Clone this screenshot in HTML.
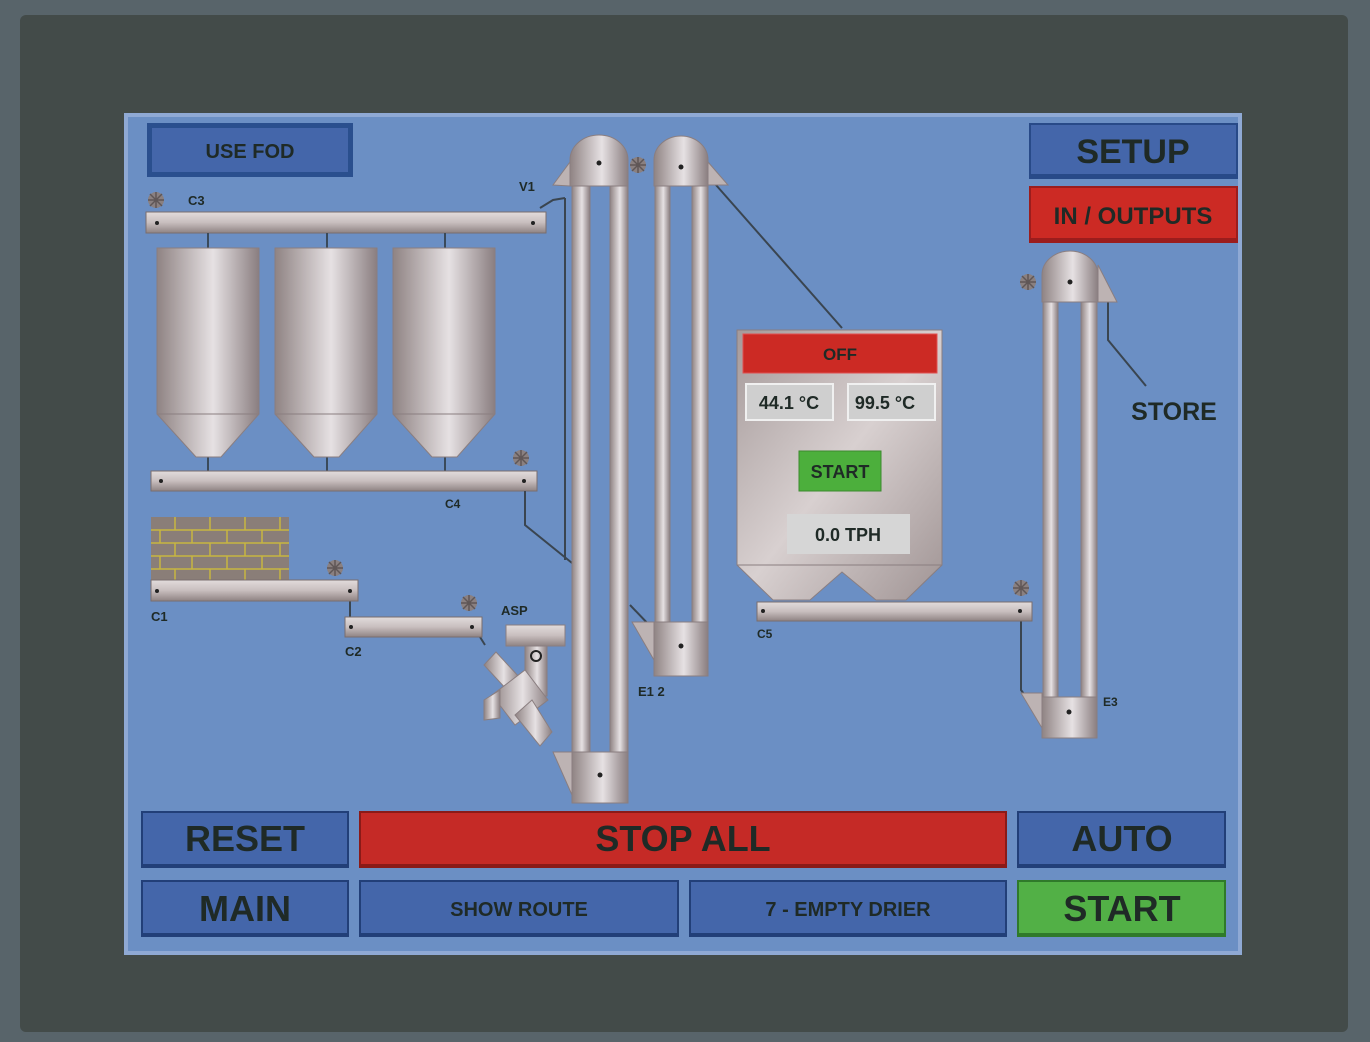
<!DOCTYPE html>
<html><head><meta charset="utf-8"><style>
html,body{margin:0;padding:0;background:#58646a;}
svg{display:block}
text{font-family:"Liberation Sans",sans-serif;font-weight:bold;fill:#1f2a26}
</style></head><body>
<svg width="1370" height="1042" viewBox="0 0 1370 1042" xmlns="http://www.w3.org/2000/svg">
<defs>
<linearGradient id="m" x1="0" x2="1" y1="0" y2="0">
<stop offset="0" stop-color="#8f8383"/><stop offset="0.55" stop-color="#e6e1e3"/><stop offset="1" stop-color="#8a7e80"/></linearGradient>
<linearGradient id="mv" x1="0" x2="0" y1="0" y2="1">
<stop offset="0" stop-color="#e2dcdc"/><stop offset="0.5" stop-color="#c8bebe"/><stop offset="1" stop-color="#8f8383"/></linearGradient>
<linearGradient id="box" x1="0" x2="1" y1="0" y2="1">
<stop offset="0" stop-color="#a59a9a"/><stop offset="0.5" stop-color="#d8d0d0"/><stop offset="1" stop-color="#a09494"/></linearGradient>
<g id="fan"><circle r="8" fill="#8a8080"/><path d="M-8 0H8M0-8V8M-6-6L6 6M-6 6L6-6" stroke="#5f5656" stroke-width="1.5"/></g>
</defs>
<rect x="0" y="0" width="1370" height="1042" fill="#58646a"/>
<rect x="20" y="15" width="1328" height="1017" rx="6" fill="#434b49"/>
<rect x="124" y="113" width="1118" height="842" fill="#8fa9d4"/>
<rect x="128" y="117" width="1110" height="834" fill="#6b8fc4"/>
<!-- top buttons -->
<rect x="147" y="123" width="206" height="54" fill="#2a4f8e"/><rect x="152" y="128" width="196" height="44" fill="#4466aa"/>
<text x="250" y="158" font-size="20" text-anchor="middle">USE FOD</text>
<rect x="1029" y="123" width="209" height="56" fill="#284a88"/><rect x="1031" y="125" width="205" height="49" fill="#4466aa"/>
<text x="1133" y="163" font-size="34" text-anchor="middle">SETUP</text>
<rect x="1029" y="186" width="209" height="57" fill="#9b1d1d"/><rect x="1031" y="188" width="205" height="50" fill="#cc2a24"/>
<text x="1133" y="224" font-size="24" text-anchor="middle">IN / OUTPUTS</text>
<!-- C3 -->
<use href="#fan" x="156" y="200"/><text x="188" y="205" font-size="13" font-weight="normal">C3</text>
<rect x="146" y="212" width="400" height="21" fill="url(#mv)" stroke="#7a6e6e"/>
<circle cx="157" cy="223" r="2" fill="#222"/><circle cx="533" cy="223" r="2" fill="#222"/>
<g stroke="#3a4a5a" stroke-width="2"><line x1="208" y1="233" x2="208" y2="248"/><line x1="327" y1="233" x2="327" y2="248"/><line x1="445" y1="233" x2="445" y2="248"/>
<line x1="208" y1="457" x2="208" y2="471"/><line x1="327" y1="457" x2="327" y2="471"/><line x1="445" y1="457" x2="445" y2="471"/></g>
<g fill="url(#m)" stroke="#8a7e80">
<path d="M157 248H259V414L221 457H196L157 414Z"/><path d="M275 248H377V414L339 457H314L275 414Z"/><path d="M393 248H495V414L457 457H432L393 414Z"/></g>
<g stroke="#8a7e80"><line x1="157" y1="414" x2="259" y2="414"/><line x1="275" y1="414" x2="377" y2="414"/><line x1="393" y1="414" x2="495" y2="414"/></g>
<!-- C4 -->
<use href="#fan" x="521" y="458"/>
<rect x="151" y="471" width="386" height="20" fill="url(#mv)" stroke="#7a6e6e"/>
<circle cx="161" cy="481" r="2" fill="#222"/><circle cx="524" cy="481" r="2" fill="#222"/>
<text x="445" y="508" font-size="12" font-weight="normal">C4</text>
<text x="519" y="191" font-size="13" font-weight="normal">V1</text>
<!-- lines -->
<g stroke="#3a4550" stroke-width="2" fill="none">
<polyline points="525,491 525,525 572,563"/>
<line x1="565" y1="198" x2="565" y2="560"/>
<polyline points="540,208 553,200 565,198"/>
<line x1="716" y1="185" x2="842" y2="328"/>
<polyline points="1108,302 1108,340 1146,386"/>
<polyline points="1021,621 1021,690 1040,716"/>
<line x1="630" y1="605" x2="652" y2="628"/>
<line x1="480" y1="637" x2="485" y2="645"/>
<line x1="350" y1="601" x2="350" y2="617"/>
</g>
<!-- Elevator E1 -->
<g fill="url(#m)" stroke="#8a7e80">
<path d="M553 185L570 162V186Z" fill="#bdb3b3"/>
<path d="M570 186V160A29 25 0 0 1 628 160V186Z"/>
<rect x="572" y="186" width="18" height="568"/><rect x="610" y="186" width="18" height="568"/>
<path d="M553 752H572V795Z" fill="#bdb3b3"/>
<rect x="572" y="752" width="56" height="51"/>
</g>
<circle cx="599" cy="163" r="2.5" fill="#222"/><circle cx="600" cy="775" r="2.5" fill="#222"/>
<use href="#fan" x="638" y="165"/>
<!-- Elevator E2 -->
<g fill="url(#m)" stroke="#8a7e80">
<path d="M708 162L728 185H708Z" fill="#bdb3b3"/>
<path d="M654 186V160A27 24 0 0 1 708 160V186Z"/>
<rect x="655" y="186" width="15" height="438"/><rect x="692" y="186" width="16" height="438"/>
<path d="M632 622H654V660Z" fill="#bdb3b3"/>
<rect x="654" y="622" width="54" height="54"/>
</g>
<circle cx="681" cy="167" r="2.5" fill="#222"/><circle cx="681" cy="646" r="2.5" fill="#222"/>
<text x="638" y="696" font-size="13" font-weight="normal">E1 2</text>
<!-- Drier -->
<path d="M737 330H942V565L906 600H876L842 572L810 600H773L737 565Z" fill="url(#box)" stroke="#8a7e80"/>
<line x1="737" y1="565" x2="942" y2="565" stroke="#8a7e80"/>
<rect x="743" y="334" width="194" height="39" fill="#cc2a24" stroke="#e05050"/>
<text x="840" y="360" font-size="17" text-anchor="middle">OFF</text>
<rect x="746" y="384" width="87" height="36" fill="#cfcfcf" stroke="#f0f0f0" stroke-width="2"/>
<rect x="848" y="384" width="87" height="36" fill="#cfcfcf" stroke="#f0f0f0" stroke-width="2"/>
<text x="789" y="409" font-size="18" text-anchor="middle">44.1 °C</text>
<text x="885" y="409" font-size="18" text-anchor="middle">99.5 °C</text>
<rect x="799" y="451" width="82" height="40" fill="#4caf3c" stroke="#3b8a2e"/>
<text x="840" y="478" font-size="18" text-anchor="middle">START</text>
<rect x="787" y="514" width="123" height="40" fill="#d6d6d6"/>
<text x="848" y="541" font-size="18" text-anchor="middle">0.0  TPH</text>
<!-- C5 -->
<use href="#fan" x="1021" y="588"/>
<rect x="757" y="602" width="275" height="19" fill="url(#mv)" stroke="#7a6e6e"/>
<circle cx="763" cy="611" r="2" fill="#222"/><circle cx="1020" cy="611" r="2" fill="#222"/>
<text x="757" y="638" font-size="12" font-weight="normal">C5</text>
<!-- E3 -->
<use href="#fan" x="1028" y="282"/>
<g fill="url(#m)" stroke="#8a7e80">
<path d="M1098 265L1117 302H1098Z" fill="#bdb3b3"/>
<path d="M1042 302V275A28 24 0 0 1 1098 275V302Z"/>
<rect x="1043" y="302" width="15" height="396"/><rect x="1081" y="302" width="16" height="396"/>
<path d="M1021 693H1042V728Z" fill="#bdb3b3"/>
<rect x="1042" y="697" width="55" height="41"/>
</g>
<circle cx="1070" cy="282" r="2.5" fill="#222"/><circle cx="1069" cy="712" r="2.5" fill="#222"/>
<text x="1103" y="706" font-size="12" font-weight="normal">E3</text>
<text x="1174" y="420" font-size="25" text-anchor="middle">STORE</text>
<!-- brick -->
<rect x="151" y="517" width="138" height="63" fill="#8a7e78"/>
<g stroke="#c8b640" stroke-width="1.5">
<line x1="151" y1="530" x2="289" y2="530"/><line x1="151" y1="543" x2="289" y2="543"/><line x1="151" y1="556" x2="289" y2="556"/><line x1="151" y1="569" x2="289" y2="569"/>
<path d="M175 517v13M210 517v13M245 517v13M280 517v13M160 530v13M192 530v13M227 530v13M262 530v13M175 543v13M210 543v13M245 543v13M280 543v13M160 556v13M192 556v13M227 556v13M262 556v13M175 569v11M210 569v11M245 569v11M280 569v11"/></g>
<use href="#fan" x="335" y="568"/>
<rect x="151" y="580" width="207" height="21" fill="url(#mv)" stroke="#7a6e6e"/>
<circle cx="157" cy="591" r="2" fill="#222"/><circle cx="350" cy="591" r="2" fill="#222"/>
<text x="151" y="621" font-size="13" font-weight="normal">C1</text>
<use href="#fan" x="469" y="603"/>
<rect x="345" y="617" width="137" height="20" fill="url(#mv)" stroke="#7a6e6e"/>
<circle cx="351" cy="627" r="2" fill="#222"/><circle cx="472" cy="627" r="2" fill="#222"/>
<text x="345" y="656" font-size="13" font-weight="normal">C2</text>
<!-- ASP -->
<text x="501" y="615" font-size="13" font-weight="normal">ASP</text>
<rect x="506" y="625" width="59" height="21" fill="url(#mv)" stroke="#8a7e80"/>
<g fill="url(#m)" stroke="#8a7e80">
<rect x="525" y="646" width="22" height="50"/>
<path d="M484 665L496 652L520 678L508 691Z"/>
<path d="M492 695L525 670L548 700L515 725Z"/>
<path d="M515 715L532 700L552 732L540 746Z"/>
<path d="M484 700L500 690L500 718L484 720Z"/>
</g>
<circle cx="536" cy="656" r="5" fill="none" stroke="#222" stroke-width="2"/>
<!-- bottom buttons -->
<rect x="141" y="811" width="208" height="57" fill="#223f78"/><rect x="143" y="813" width="204" height="51" fill="#4466aa"/>
<text x="245" y="851" font-size="36" text-anchor="middle">RESET</text>
<rect x="359" y="811" width="648" height="57" fill="#8a1a18"/><rect x="361" y="813" width="644" height="51" fill="#c52a26"/>
<text x="683" y="851" font-size="36" text-anchor="middle">STOP ALL</text>
<rect x="1017" y="811" width="209" height="57" fill="#223f78"/><rect x="1019" y="813" width="205" height="51" fill="#4466aa"/>
<text x="1122" y="851" font-size="36" text-anchor="middle">AUTO</text>
<rect x="141" y="880" width="208" height="57" fill="#223f78"/><rect x="143" y="882" width="204" height="51" fill="#4466aa"/>
<text x="245" y="921" font-size="36" text-anchor="middle">MAIN</text>
<rect x="359" y="880" width="320" height="57" fill="#223f78"/><rect x="361" y="882" width="316" height="51" fill="#4466aa"/>
<text x="519" y="916" font-size="20" text-anchor="middle">SHOW ROUTE</text>
<rect x="689" y="880" width="318" height="57" fill="#223f78"/><rect x="691" y="882" width="314" height="51" fill="#4466aa"/>
<text x="848" y="916" font-size="20" text-anchor="middle">7  -  EMPTY DRIER</text>
<rect x="1017" y="880" width="209" height="57" fill="#2f7a2a"/><rect x="1019" y="882" width="205" height="51" fill="#52b046"/>
<text x="1122" y="921" font-size="36" text-anchor="middle">START</text>
</svg>
</body></html>
